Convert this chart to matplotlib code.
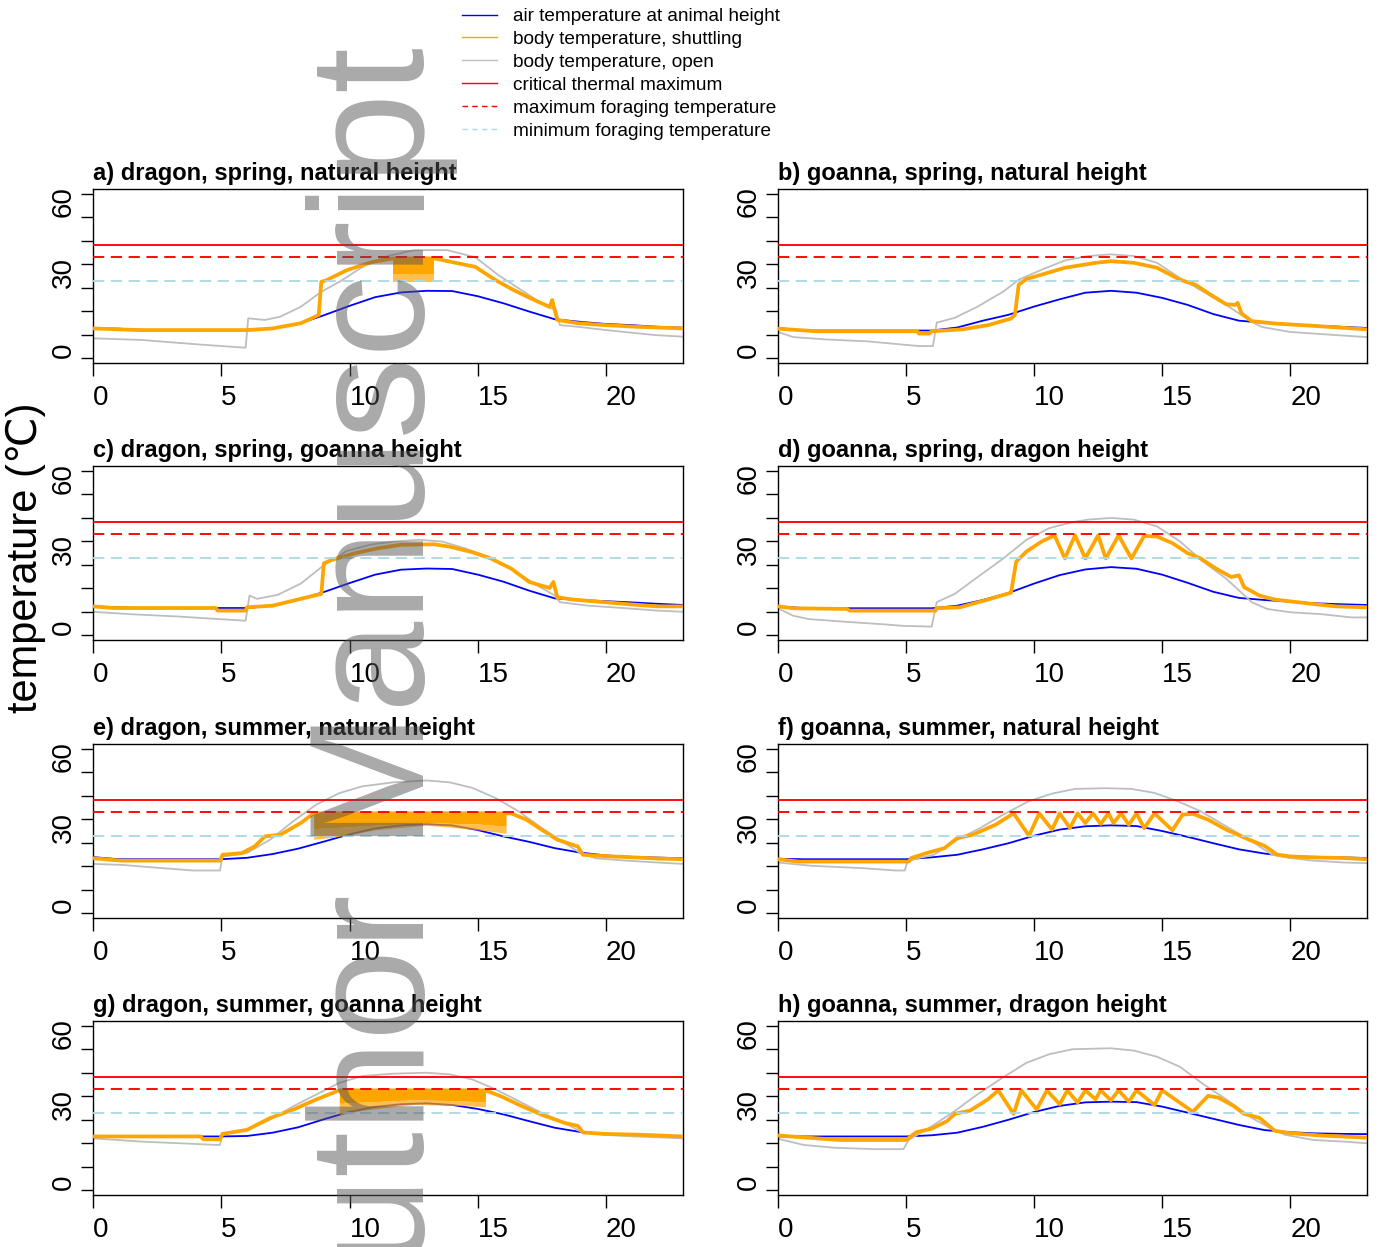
"""
Body temperature of a dragon and a goanna over a day, spring vs summer,
at natural height and at the other species' height.

Output: out.png
"""

import matplotlib
matplotlib.use("Agg")
import matplotlib.pyplot as plt
from matplotlib.lines import Line2D

plt.rcParams["font.family"] = ["Liberation Sans", "DejaVu Sans"]

# ── thresholds ─────────────────────────────────────────────────────
CT_MAX = 48.0   # critical thermal maximum
VT_MAX = 43.0   # maximum foraging temperature
VT_MIN = 33.0   # minimum foraging temperature
SHUTTLE_TOP = 42.5

HOURS = list(range(24))

# ── a) dragon, spring, natural height ──────────────────────────────
AIR_A = [12.7, 12.6, 12.0, 12.0, 12.0, 12.0, 12.0, 12.7, 14.6, 18.3, 22.3, 26.0,
         28.0, 28.7, 28.6, 26.4, 23.4, 19.9, 16.6, 15.5, 14.6, 14.1, 13.4, 13.0]
OPEN_T_A = [0, 1.9, 4.1, 5.95, 6.05, 6.7, 7.3, 8.1, 8.9, 9.6, 10.6, 11.5, 12.5,
            13.8, 14.9, 15.8, 16.7, 17.7, 18.05, 18.2, 18.9, 20, 21.9, 23]
OPEN_A = [8.5, 7.8, 5.9, 4.5, 17.0, 16.3, 17.7, 21.9, 28.3, 32.5, 39.5, 43.5, 46.0,
          46.0, 43.0, 35.4, 29.0, 21.9, 20.5, 14.1, 13.4, 12.0, 9.9, 9.2]
SHUT_T_A = [0, 1.8, 6.0, 7.0, 8.1, 8.8, 8.9, 9.1, 9.9, 10.9, 11.7, 13.3, 14.9,
            15.7, 16.4, 17.2, 17.8, 17.9, 18.1, 18.9, 20, 21.2, 23]
SHUT_A = [12.7, 12.0, 12.0, 12.7, 14.9, 18.4, 32.5, 33.2, 37.5, 41.0, 42.5, 42.5, 38.9,
          33.2, 29.0, 24.8, 21.9, 24.8, 16.3, 14.9, 14.1, 13.4, 12.7]
BAND_T_A = [11.7, 13.3]
BAND_LO_A = [32.5, 32.5]
BAND_MID_A = [36.0, 36.0]

# ── b) goanna, spring, natural height ──────────────────────────────
AIR_B = [12.9, 11.8, 11.8, 11.8, 11.8, 11.8, 11.8, 13.1, 16.0, 18.5, 22.0, 25.1,
         27.9, 28.7, 27.9, 25.7, 22.7, 18.8, 16.0, 15.1, 14.3, 13.9, 13.4, 12.9]
OPEN_T_B = [0, 0.6, 1.9, 3.5, 4.5, 5.5, 6.05, 6.2, 6.9, 7.8, 8.8, 9.4, 10.3, 11.2,
            12.1, 13.0, 13.9, 14.8, 15.7, 16.6, 17.5, 18.5, 18.9, 20, 21.2, 23]
OPEN_B = [11.2, 9.0, 8.0, 7.2, 6.2, 5.2, 5.2, 15.2, 17.2, 22.0, 28.4, 33.4, 37.7, 41.6,
          43.5, 44.2, 43.5, 40.6, 34.1, 28.4, 22.7, 15.5, 13.3, 11.2, 10.3, 9.0]
SHUT_T_B = [0, 1.5, 5.45, 5.5, 5.9, 6.0, 7.2, 8.2, 9.1, 9.25, 9.4, 9.7, 10.3, 11.2,
            12.4, 13.0, 13.9, 14.8, 15.7, 16.3, 16.9, 17.5, 17.85, 17.95, 18.1, 18.5,
            19.4, 20.9, 23]
SHUT_B = [12.6, 11.5, 11.5, 10.5, 10.5, 11.5, 12.3, 14.1, 16.9, 18.4, 31.3, 33.7, 35.6, 38.5,
          40.6, 41.3, 40.6, 38.5, 33.4, 31.3, 27.0, 23.0, 22.7, 23.6, 19.1, 15.8,
          14.8, 13.8, 12.3]

# ── c) dragon, spring, goanna height ───────────────────────────────
AIR_C = [12.3, 11.9, 11.6, 11.6, 11.6, 11.6, 11.6, 12.6, 15.2, 18.4, 22.2, 25.8,
         27.9, 28.4, 28.2, 25.8, 22.8, 19.0, 15.7, 15.0, 14.5, 14.0, 13.4, 12.9]
OPEN_T_C = [0, 1.4, 3.3, 4.9, 5.95, 6.1, 6.4, 7.2, 8.1, 9.0, 9.9, 10.8, 11.7, 12.7,
            13.6, 14.5, 15.4, 16.3, 17.2, 18.0, 18.2, 19.3, 20.8, 22, 23]
OPEN_C = [10.0, 9.0, 8.0, 6.9, 6.2, 16.9, 15.5, 17.2, 22.0, 29.8, 35.9, 38.5, 39.9, 40.6,
          39.9, 37.0, 33.4, 28.4, 22.0, 16.9, 14.1, 12.6, 11.5, 10.5, 10.0]
SHUT_T_C = [0, 0.8, 4.8, 4.85, 5.95, 6.0, 7.0, 8.1, 8.9, 9.0, 9.3, 10.2, 11.1, 12.0,
            13.3, 13.9, 14.8, 15.5, 16.3, 17.0, 17.8, 17.95, 18.1, 18.7, 20.8, 22, 23]
SHUT_C = [12.3, 11.6, 11.6, 10.5, 10.5, 11.9, 12.6, 15.5, 17.6, 30.6, 32.0, 34.9, 37.0, 38.5,
          38.7, 37.7, 35.3, 32.7, 28.4, 22.7, 20.1, 22.7, 16.2, 15.2, 13.3, 12.3, 12.3]

# ── d) goanna, spring, dragon height ───────────────────────────────
AIR_D = [12.3, 11.6, 11.5, 11.5, 11.5, 11.5, 11.5, 12.6, 15.0, 18.0, 22.0, 25.6,
         28.0, 29.0, 28.3, 25.8, 22.3, 18.5, 15.9, 15.0, 14.3, 13.6, 13.2, 12.9]
OPEN_T_D = [0, 0.6, 1.2, 2.7, 4.1, 4.9, 6.0, 6.2, 6.9, 7.8, 8.8, 9.7, 10.6, 11.5,
            12.1, 13.0, 13.9, 14.8, 15.7, 16.6, 17.5, 18.5, 19.1, 20, 21.2, 22.4, 23]
OPEN_D = [11.5, 8.3, 6.9, 5.7, 4.7, 4.0, 3.7, 14.1, 17.6, 24.8, 32.7, 40.6, 45.6, 48.1,
          49.2, 49.9, 49.2, 46.3, 39.9, 31.3, 24.1, 14.1, 11.2, 9.8, 9.0, 7.6, 7.6]
SHUT_T_D = [0, 0.6, 2.7, 2.8, 6.15, 6.2, 7.1, 8.2, 9.1, 9.3, 9.7, 10.3, 10.8, 11.2,
            11.6, 12.0, 12.5, 12.8, 13.3, 13.8, 14.3, 14.8, 15.4, 16.0, 16.5, 17.1,
            17.7, 18.0, 18.2, 18.8, 19.4, 20.9, 21.8, 23]
SHUT_D = [12.3, 11.5, 11.2, 10.5, 10.5, 11.5, 11.9, 15.2, 18.1, 31.3, 35.6, 39.9, 42.5, 32.7,
          42.5, 32.7, 42.5, 32.7, 42.5, 32.7, 42.3, 42.0, 39.2, 34.9, 32.7, 28.4,
          24.8, 25.5, 20.5, 16.9, 15.2, 13.3, 12.3, 11.9]

# ── e) dragon, summer, natural height ──────────────────────────────
AIR_E = [23.9, 23.0, 23.0, 23.0, 23.0, 23.0, 23.6, 25.2, 27.5, 30.5, 33.6, 36.1,
         37.4, 37.9, 37.4, 35.4, 32.7, 30.4, 27.7, 25.8, 24.6, 24.0, 23.7, 23.4]
OPEN_T_E = [0, 1.1, 2.7, 3.9, 4.95, 5.05, 6.0, 6.9, 7.8, 8.7, 9.6, 10.5, 11.7, 13.0,
            13.9, 14.8, 15.7, 16.6, 17.5, 18.4, 19.0, 19.6, 20.8, 22, 23]
OPEN_E = [21.0, 20.6, 19.2, 18.2, 18.2, 24.1, 25.6, 31.3, 39.1, 46.2, 51.1, 54.0, 55.7, 56.5,
          55.7, 53.3, 49.0, 43.3, 36.2, 29.8, 25.6, 23.4, 22.4, 21.6, 21.0]
SHUT_T_E = [0, 1.1, 4.95, 5.05, 5.8, 6.3, 6.7, 7.3, 8.1, 8.6, 16.1, 16.3, 16.9, 17.5,
            18.1, 18.9, 19.1, 19.8, 20.8, 22, 23]
SHUT_E = [23.4, 22.4, 22.4, 24.9, 25.6, 28.4, 32.7, 33.4, 38.4, 42.5, 42.5, 42.5, 39.8, 35.5,
          31.3, 28.4, 24.9, 24.4, 23.9, 23.3, 23.0]
BAND_T_E = [8.6, 9.5, 11.0, 13.0, 15.0, 16.1]
BAND_LO_E = [31.5, 32.5, 35.5, 37.5, 35.5, 34.0]
BAND_MID_E = [36.0, 36.5, 37.5, 38.5, 38.0, 37.0]

# ── f) goanna, summer, natural height ──────────────────────────────
AIR_F = [23.2, 23.0, 23.0, 23.0, 23.0, 23.0, 23.8, 24.9, 27.2, 29.8, 33.0, 35.6,
         37.0, 37.4, 37.1, 35.0, 32.5, 29.8, 27.2, 25.4, 24.2, 24.0, 23.8, 23.5]
OPEN_T_F = [0, 1.3, 3.3, 4.6, 4.95, 5.05, 5.5, 6.1, 7.0, 7.9, 8.8, 9.8, 10.7, 11.6,
            12.8, 13.8, 14.7, 15.6, 16.5, 17.5, 18.4, 19.3, 20.0, 20.8, 22.1, 23]
OPEN_F = [21.6, 20.2, 19.2, 18.2, 18.2, 22.0, 23.5, 24.9, 31.3, 36.3, 42.0, 47.7, 50.9, 52.9,
          53.2, 52.9, 51.2, 47.7, 43.4, 37.0, 31.3, 24.9, 23.5, 22.5, 21.6, 21.3]
SHUT_T_F = [0, 0.8, 5.1, 5.2, 5.8, 6.5, 7.0, 7.6, 8.5, 9.2, 9.8, 10.2, 10.7, 11.0,
            11.4, 11.7, 12.0, 12.3, 12.6, 12.9, 13.1, 13.4, 13.7, 14.0, 14.3, 14.7,
            15.4, 15.8, 16.2, 16.8, 17.5, 18.4, 19.0, 19.5, 20.0, 20.8, 22.1, 23]
SHUT_F = [23.0, 22.0, 22.0, 23.5, 25.6, 27.7, 32.0, 33.4, 37.7, 42.5, 33.0, 42.5, 35.6, 42.5,
          36.3, 42.5, 38.4, 42.5, 38.0, 42.5, 38.4, 42.5, 37.6, 42.5, 36.2, 42.5,
          35.3, 42.0, 42.3, 39.8, 35.6, 31.3, 28.7, 24.9, 24.2, 23.8, 23.5, 23.0]

# ── g) dragon, summer, goanna height ───────────────────────────────
AIR_G = [22.9, 22.9, 22.9, 22.9, 22.9, 22.9, 23.1, 24.5, 26.8, 30.2, 33.4, 35.5,
         36.6, 37.0, 36.3, 34.6, 32.3, 29.4, 26.6, 24.8, 23.9, 23.5, 23.2, 22.9]
OPEN_T_G = [0, 1.9, 3.4, 4.8, 4.95, 5.05, 6.0, 6.9, 7.8, 8.7, 9.6, 10.5, 11.7, 13.0,
            13.9, 14.8, 15.7, 16.6, 17.5, 18.4, 19.0, 19.9, 21.1, 23]
OPEN_G = [22.1, 20.7, 20.0, 19.3, 19.3, 24.3, 25.7, 30.0, 35.7, 40.7, 45.7, 48.6, 49.6, 50.0,
          49.3, 47.1, 42.9, 37.9, 32.9, 28.6, 25.0, 23.6, 22.9, 22.1]
SHUT_T_G = [0, 4.2, 4.3, 4.95, 5.05, 6.0, 6.9, 7.8, 8.7, 9.6, 15.3, 15.9, 16.6, 17.5,
            18.4, 18.9, 19.1, 19.9, 21.4, 23]
SHUT_G = [22.9, 22.9, 21.7, 21.7, 24.0, 25.7, 30.7, 34.3, 38.6, 42.5, 42.5, 40.0, 36.4, 32.1,
          28.6, 27.4, 24.6, 24.0, 23.6, 22.9]
BAND_T_G = [9.6, 10.5, 12.5, 14.5, 15.3]
BAND_LO_G = [32.0, 34.0, 36.5, 36.0, 35.5]
BAND_MID_G = [37.0, 37.5, 38.5, 38.0, 37.5]

# ── h) goanna, summer, dragon height ───────────────────────────────
AIR_H = [22.9, 22.9, 22.9, 22.9, 22.9, 22.9, 23.4, 24.5, 27.0, 30.0, 33.3, 35.9,
         37.4, 37.7, 37.5, 35.6, 33.0, 30.4, 27.8, 25.6, 24.7, 24.2, 24.0, 23.9]
OPEN_T_H = [0, 1.0, 2.2, 3.8, 4.9, 5.1, 6.0, 6.9, 7.8, 8.8, 9.7, 10.6, 11.5, 13.0,
            13.9, 14.8, 15.7, 16.6, 17.5, 18.5, 19.1, 19.8, 20.9, 22.1, 23]
OPEN_H = [21.9, 19.3, 18.1, 17.5, 17.5, 21.4, 27.2, 33.7, 40.9, 48.1, 54.2, 57.9, 60.0, 60.4,
          59.4, 56.8, 52.5, 45.2, 38.7, 30.8, 27.2, 23.6, 21.4, 20.7, 20.0]
SHUT_T_H = [0, 2.4, 5.0, 5.4, 6.0, 6.6, 6.9, 7.5, 8.2, 8.6, 9.2, 9.5, 10.1, 10.5,
            11.0, 11.3, 11.7, 12.0, 12.4, 12.6, 13.0, 13.3, 13.7, 14.0, 14.7, 15.0,
            16.2, 16.8, 17.2, 17.8, 18.2, 18.8, 19.4, 20.0, 21.2, 23]
SHUT_H = [23.3, 21.4, 21.4, 24.7, 26.2, 29.4, 32.5, 33.9, 38.7, 42.5, 32.5, 42.5, 34.4, 42.5,
          36.6, 42.5, 37.3, 42.5, 38.7, 42.5, 38.3, 42.5, 37.7, 42.5, 36.3, 42.5,
          33.4, 40.2, 39.4, 35.8, 32.5, 30.8, 25.3, 24.3, 23.3, 22.4]

TITLES = [
    "a) dragon, spring, natural height", "b) goanna, spring, natural height",
    "c) dragon, spring, goanna height", "d) goanna, spring, dragon height",
    "e) dragon, summer, natural height", "f) goanna, summer, natural height",
    "g) dragon, summer, goanna height", "h) goanna, summer, dragon height",
]
X_TICKS = [0, 5, 10, 15, 20]
Y_TICKS = [0, 10, 20, 30, 40, 50, 60, 70]
Y_TICK_LABELS = ["0", "", "", "30", "", "", "60", ""]
LEGEND_LABELS = [
    "air temperature at animal height", "body temperature, shuttling",
    "body temperature, open", "critical thermal maximum",
    "maximum foraging temperature", "minimum foraging temperature",
]

BLUE = "#0000FF"
ORANGE = "#FFA500"
GREY = "#BEBEBE"
RED = "#FF0000"
LIGHTBLUE = "#ADD8E6"
DASH = (6, 3.5)

# layout in pixels of the 1378 x 1247 canvas
W, H = 1378, 1247
COL_LEFT = [93, 778]
COL_WIDTH = [590, 589]
ROW_TOP = [189, 466, 744, 1021]
ROW_HEIGHT = 174


# ── one panel ──────────────────────────────────────────────────────

def _panel(ax, title, air, open_t, open_v, shut_t, shut_v, band=None):
    ax.plot(HOURS, air, color=BLUE, lw=1.3, zorder=2)
    ax.plot(open_t, open_v, color=GREY, lw=1.3, zorder=2.2)
    if band is not None:
        bt, lo, mid = band
        ax.fill_between(bt, mid, [SHUTTLE_TOP] * len(bt), color=ORANGE, lw=0, zorder=2.5)
        ax.fill_between(bt, lo, mid, color=ORANGE, alpha=0.7, lw=0, zorder=2.5)
    ax.plot(shut_t, shut_v, color=ORANGE, lw=2.7, zorder=3, solid_joinstyle="round")

    ax.axhline(CT_MAX, color=RED, lw=1.35, zorder=4)
    ax.axhline(VT_MAX, color=RED, lw=1.35, dashes=DASH, zorder=4)
    ax.axhline(VT_MIN, color=LIGHTBLUE, lw=1.35, dashes=DASH, zorder=4)

    ax.set_xlim(0, 23)
    ax.set_ylim(-2, 72)
    ax.set_xticks(X_TICKS)
    ax.set_xticklabels([str(x) for x in X_TICKS])
    ax.set_yticks(Y_TICKS)
    ax.set_yticklabels(Y_TICK_LABELS)
    ax.tick_params(axis="x", length=9, width=1, labelsize=20, pad=7)
    ax.tick_params(axis="y", length=9, width=1, labelsize=20, pad=2.5)
    plt.setp(ax.get_xticklabels(), ha="left")
    plt.setp(ax.get_yticklabels(), rotation=90, va="bottom", ha="right")
    for s in ax.spines.values():
        s.set_linewidth(1.0)
    ax.set_title(title, loc="left", fontsize=17, fontweight="bold", pad=6.5)


# ── figure ─────────────────────────────────────────────────────────

def main():
    fig = plt.figure(figsize=(W / 100, H / 100), dpi=100)

    panels = [
        (AIR_A, OPEN_T_A, OPEN_A, SHUT_T_A, SHUT_A, (BAND_T_A, BAND_LO_A, BAND_MID_A)),
        (AIR_B, OPEN_T_B, OPEN_B, SHUT_T_B, SHUT_B, None),
        (AIR_C, OPEN_T_C, OPEN_C, SHUT_T_C, SHUT_C, None),
        (AIR_D, OPEN_T_D, OPEN_D, SHUT_T_D, SHUT_D, None),
        (AIR_E, OPEN_T_E, OPEN_E, SHUT_T_E, SHUT_E, (BAND_T_E, BAND_LO_E, BAND_MID_E)),
        (AIR_F, OPEN_T_F, OPEN_F, SHUT_T_F, SHUT_F, None),
        (AIR_G, OPEN_T_G, OPEN_G, SHUT_T_G, SHUT_G, (BAND_T_G, BAND_LO_G, BAND_MID_G)),
        (AIR_H, OPEN_T_H, OPEN_H, SHUT_T_H, SHUT_H, None),
    ]

    for i, (title, p) in enumerate(zip(TITLES, panels)):
        row, col = divmod(i, 2)
        rect = [COL_LEFT[col] / W, 1 - (ROW_TOP[row] + ROW_HEIGHT) / H,
                COL_WIDTH[col] / W, ROW_HEIGHT / H]
        ax = fig.add_axes(rect)
        _panel(ax, title, *p)

    handles = [
        Line2D([], [], color=BLUE, lw=1.0),
        Line2D([], [], color=ORANGE, lw=1.0),
        Line2D([], [], color=GREY, lw=1.0),
        Line2D([], [], color=RED, lw=1.0),
        Line2D([], [], color=RED, lw=1.0, dashes=(4, 3)),
        Line2D([], [], color=LIGHTBLUE, lw=1.0, dashes=(4, 3)),
    ]
    fig.legend(handles, LEGEND_LABELS, loc="upper left",
               bbox_to_anchor=(462 / W, 1 - 8 / H), frameon=False,
               fontsize=13.7, handlelength=1.85, handletextpad=0.85,
               labelspacing=0.29, borderpad=0, borderaxespad=0)

    fig.text(26 / W, 1 - 558 / H, "temperature (\u2103)", rotation=90,
             fontsize=30, ha="center", va="center")

    # watermark, semi-transparent over everything
    fig.text(424 / W, 1 - 47 / H, "Author Manuscript", rotation=90,
             rotation_mode="anchor", ha="right", va="baseline",
             fontsize=118, color="#555555", alpha=0.5, zorder=10)

    fig.savefig("out.png", dpi=100)
    plt.close(fig)


if __name__ == "__main__":
    main()
